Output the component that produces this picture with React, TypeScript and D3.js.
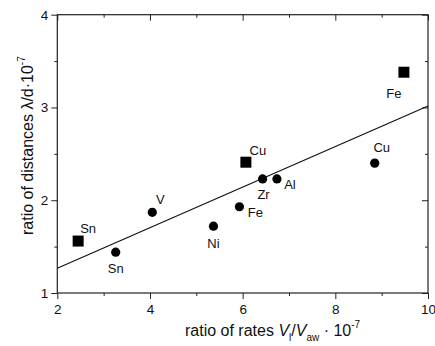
import { useEffect, useRef } from "react";
import * as d3 from "d3";

// metal points (circles)
const circleNames = ["Sn", "V", "Ni", "Fe", "Zr", "Al", "Cu"];
const circleX = [3.26, 4.05, 5.37, 5.93, 6.43, 6.74, 8.85];
const circleY = [1.44, 1.87, 1.72, 1.93, 2.23, 2.23, 2.4];

// square points
const squareNames = ["Sn", "Cu", "Fe"];
const squareX = [2.45, 6.07, 9.48];
const squareY = [1.56, 2.41, 3.38];

// linear fit end points
const fitX = [2, 10];
const fitY = [1.266, 3.015];

const xTicks = [2, 4, 6, 8, 10];
const xMinor = [3, 5, 7, 9];
const yTicks = [1, 2, 3, 4];
const yMinor = [1.5, 2.5, 3.5];

// label offsets (px) relative to the marker
const circleLabelOffset: [number, number][] = [
  [0, 16], [8, -13], [0, 17], [16, 6], [1, 16], [13, 6], [7, -16],
];
const squareLabelOffset: [number, number][] = [
  [10, -13], [12, -12], [-10, 21],
];

const width = 435;
const height = 346;
const margin = { top: 14.7, right: 7, bottom: 53, left: 57.3 };
const font = "'Liberation Sans', Arial, sans-serif";

const App = () => {
  const ref = useRef<SVGSVGElement | null>(null);

  useEffect(() => {
    const svg = d3.select(ref.current as SVGSVGElement);
    svg.selectAll("*").remove();

    const x = d3
      .scaleLinear()
      .domain([2, 10])
      .range([margin.left, width - margin.right]);
    const y = d3
      .scaleLinear()
      .domain([1, 4])
      .range([height - margin.bottom, margin.top]);

    const [x0, x1] = x.range();
    const [y0, y1] = y.range();

    const styleAxis = (g: d3.Selection<SVGGElement, unknown, null, undefined>) =>
      g
        .call((g) => g.select(".domain").remove())
        .call((g) => g.selectAll("line").attr("stroke", "#222"))
        .call((g) =>
          g
            .selectAll("text")
            .attr("font-family", font)
            .attr("font-size", 13.5)
            .attr("fill", "#111")
        );

    // bottom
    svg
      .append("g")
      .attr("transform", `translate(0,${y0})`)
      .call(d3.axisBottom(x).tickValues(xTicks).tickSize(6).tickPadding(5).tickFormat(d3.format("d")))
      .call(styleAxis);
    svg
      .append("g")
      .attr("transform", `translate(0,${y0})`)
      .call(d3.axisBottom(x).tickValues(xMinor).tickSize(3).tickFormat(() => ""))
      .call(styleAxis);
    // top (inward)
    svg
      .append("g")
      .attr("transform", `translate(0,${y1})`)
      .call(d3.axisTop(x).tickValues(xTicks).tickSize(-6).tickFormat(() => ""))
      .call(styleAxis);
    svg
      .append("g")
      .attr("transform", `translate(0,${y1})`)
      .call(d3.axisTop(x).tickValues(xMinor).tickSize(-3).tickFormat(() => ""))
      .call(styleAxis);
    // left
    svg
      .append("g")
      .attr("transform", `translate(${x0},0)`)
      .call(d3.axisLeft(y).tickValues(yTicks).tickSize(6).tickPadding(3).tickFormat(d3.format("d")))
      .call(styleAxis);
    svg
      .append("g")
      .attr("transform", `translate(${x0},0)`)
      .call(d3.axisLeft(y).tickValues(yMinor).tickSize(3).tickFormat(() => ""))
      .call(styleAxis);
    // right (inward)
    svg
      .append("g")
      .attr("transform", `translate(${x1},0)`)
      .call(d3.axisRight(y).tickValues(yTicks).tickSize(-6).tickFormat(() => ""))
      .call(styleAxis);
    svg
      .append("g")
      .attr("transform", `translate(${x1},0)`)
      .call(d3.axisRight(y).tickValues(yMinor).tickSize(-3).tickFormat(() => ""))
      .call(styleAxis);

    // frame
    svg
      .append("rect")
      .attr("x", x0)
      .attr("y", y1)
      .attr("width", x1 - x0)
      .attr("height", y0 - y1)
      .attr("fill", "none")
      .attr("stroke", "#222")
      .attr("stroke-width", 1.2);

    // fit line
    const line = d3
      .line<number>()
      .x((_, i) => x(fitX[i]))
      .y((d) => y(d));
    svg
      .append("path")
      .attr("d", line(fitY))
      .attr("fill", "none")
      .attr("stroke", "#111")
      .attr("stroke-width", 1.2);

    // circles
    svg
      .append("g")
      .selectAll("circle")
      .data(circleX)
      .join("circle")
      .attr("cx", (d) => x(d))
      .attr("cy", (_, i) => y(circleY[i]))
      .attr("r", 4.6)
      .attr("fill", "#000");

    // squares
    const s = 11;
    svg
      .append("g")
      .selectAll("rect")
      .data(squareX)
      .join("rect")
      .attr("x", (d) => x(d) - s / 2)
      .attr("y", (_, i) => y(squareY[i]) - s / 2)
      .attr("width", s)
      .attr("height", s)
      .attr("fill", "#000");

    // point labels
    const labels = svg
      .append("g")
      .attr("font-family", font)
      .attr("font-size", 13)
      .attr("fill", "#111")
      .attr("text-anchor", "middle")
      .attr("dominant-baseline", "central");
    circleNames.forEach((n, i) => {
      labels
        .append("text")
        .attr("x", x(circleX[i]) + circleLabelOffset[i][0])
        .attr("y", y(circleY[i]) + circleLabelOffset[i][1])
        .text(n);
    });
    squareNames.forEach((n, i) => {
      labels
        .append("text")
        .attr("x", x(squareX[i]) + squareLabelOffset[i][0])
        .attr("y", y(squareY[i]) + squareLabelOffset[i][1])
        .text(n);
    });

    // x title
    const xt = svg
      .append("text")
      .attr("x", 185)
      .attr("y", 336)
      .attr("font-family", font)
      .attr("font-size", 16)
      .attr("fill", "#111");
    xt.append("tspan").text("ratio of rates ");
    xt.append("tspan").attr("font-style", "italic").text("V");
    xt.append("tspan").attr("font-size", 10).attr("dy", 5).text("l");
    xt.append("tspan").attr("dy", -5).text("/");
    xt.append("tspan").attr("font-style", "italic").text("V");
    xt.append("tspan").attr("font-size", 10).attr("dy", 5).text("aw");
    xt.append("tspan").attr("dy", -5).text(" · 10");
    xt.append("tspan").attr("font-size", 10).attr("dy", -8).text("-7");

    // y title
    const yt = svg
      .append("text")
      .attr("transform", `translate(33,235) rotate(-90)`)
      .attr("font-family", font)
      .attr("font-size", 16)
      .attr("fill", "#111");
    yt.append("tspan").text("ratio of distances λ/d·10");
    yt.append("tspan").attr("font-size", 10).attr("dy", -8).text("-7");
  }, []);

  return (
    <svg
      ref={ref}
      width={width}
      height={height}
      style={{ position: "absolute", left: 0, top: 0, background: "#fff" }}
    />
  );
};

export default App;
